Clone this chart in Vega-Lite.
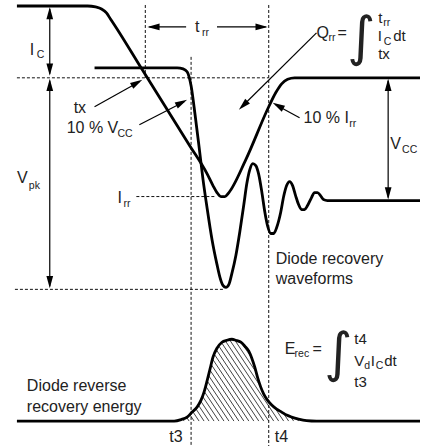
{
  "$schema": "https://vega.github.io/schema/vega-lite/v6.json",
  "width": 422,
  "height": 447,
  "autosize": {"type": "fit", "contains": "padding"},
  "padding": 0,
  "background": "white",
  "config": {"view": {"stroke": null}},
  "datasets": {
    "curves": [
      {"id": "A", "t": 17, "v": 6}, {"id": "A", "t": 88, "v": 6}, {"id": "A", "t": 96, "v": 7}, {"id": "A", "t": 102, "v": 9}, {"id": "A", "t": 107, "v": 13}, {"id": "A", "t": 111, "v": 19}, {"id": "A", "t": 115, "v": 25}, {"id": "A", "t": 143, "v": 70}, {"id": "A", "t": 190, "v": 145}, {"id": "A", "t": 208, "v": 174}, {"id": "A", "t": 214, "v": 186}, {"id": "A", "t": 218, "v": 193}, {"id": "A", "t": 222, "v": 197}, {"id": "A", "t": 226, "v": 197}, {"id": "A", "t": 230, "v": 193}, {"id": "A", "t": 247, "v": 160}, {"id": "A", "t": 270, "v": 107}, {"id": "A", "t": 277, "v": 93}, {"id": "A", "t": 283, "v": 84}, {"id": "A", "t": 289, "v": 79.5}, {"id": "A", "t": 296, "v": 78}, {"id": "A", "t": 305, "v": 78}, {"id": "A", "t": 422, "v": 78},
      {"id": "B", "t": 95, "v": 68}, {"id": "B", "t": 178, "v": 68}, {"id": "B", "t": 184, "v": 69}, {"id": "B", "t": 188, "v": 72}, {"id": "B", "t": 190, "v": 77}, {"id": "B", "t": 192, "v": 86}, {"id": "B", "t": 196, "v": 115}, {"id": "B", "t": 200, "v": 147}, {"id": "B", "t": 204, "v": 180}, {"id": "B", "t": 208, "v": 208}, {"id": "B", "t": 213, "v": 240}, {"id": "B", "t": 218, "v": 265}, {"id": "B", "t": 221, "v": 278}, {"id": "B", "t": 224, "v": 286}, {"id": "B", "t": 227, "v": 288}, {"id": "B", "t": 230, "v": 285}, {"id": "B", "t": 233, "v": 274}, {"id": "B", "t": 237, "v": 256}, {"id": "B", "t": 241, "v": 232}, {"id": "B", "t": 245, "v": 205}, {"id": "B", "t": 248, "v": 184}, {"id": "B", "t": 251, "v": 170}, {"id": "B", "t": 254, "v": 164}, {"id": "B", "t": 257, "v": 166}, {"id": "B", "t": 260, "v": 175}, {"id": "B", "t": 263, "v": 192}, {"id": "B", "t": 266, "v": 212}, {"id": "B", "t": 269, "v": 227}, {"id": "B", "t": 272, "v": 234}, {"id": "B", "t": 275, "v": 234}, {"id": "B", "t": 278, "v": 228}, {"id": "B", "t": 282, "v": 213}, {"id": "B", "t": 285, "v": 197}, {"id": "B", "t": 288, "v": 186}, {"id": "B", "t": 291, "v": 182}, {"id": "B", "t": 294, "v": 186}, {"id": "B", "t": 297, "v": 196}, {"id": "B", "t": 300, "v": 205}, {"id": "B", "t": 303, "v": 210}, {"id": "B", "t": 306, "v": 210}, {"id": "B", "t": 309, "v": 206}, {"id": "B", "t": 313, "v": 198}, {"id": "B", "t": 316, "v": 193}, {"id": "B", "t": 319, "v": 193}, {"id": "B", "t": 322, "v": 196}, {"id": "B", "t": 325, "v": 200}, {"id": "B", "t": 329, "v": 201}, {"id": "B", "t": 422, "v": 201},
      {"id": "E", "t": 17, "v": 422}, {"id": "E", "t": 175, "v": 422}, {"id": "E", "t": 182, "v": 420.5}, {"id": "E", "t": 188, "v": 418}, {"id": "E", "t": 193, "v": 413}, {"id": "E", "t": 198, "v": 408}, {"id": "E", "t": 202, "v": 401}, {"id": "E", "t": 205, "v": 393}, {"id": "E", "t": 208, "v": 382}, {"id": "E", "t": 211, "v": 370}, {"id": "E", "t": 214, "v": 358}, {"id": "E", "t": 218, "v": 349}, {"id": "E", "t": 223, "v": 343}, {"id": "E", "t": 228, "v": 341}, {"id": "E", "t": 233, "v": 340}, {"id": "E", "t": 237, "v": 341}, {"id": "E", "t": 242, "v": 343}, {"id": "E", "t": 246, "v": 347}, {"id": "E", "t": 250, "v": 352}, {"id": "E", "t": 253, "v": 359}, {"id": "E", "t": 256, "v": 368}, {"id": "E", "t": 259, "v": 379}, {"id": "E", "t": 262, "v": 388}, {"id": "E", "t": 265, "v": 395}, {"id": "E", "t": 268, "v": 400}, {"id": "E", "t": 273, "v": 406}, {"id": "E", "t": 278, "v": 410}, {"id": "E", "t": 283, "v": 413}, {"id": "E", "t": 288, "v": 416}, {"id": "E", "t": 293, "v": 418}, {"id": "E", "t": 300, "v": 420}, {"id": "E", "t": 308, "v": 421.5}, {"id": "E", "t": 318, "v": 422}, {"id": "E", "t": 422, "v": 422}
    ],
    "hatch": [
      {"t": 185, "v": 422, "t2": 127, "v2": 335}, {"t": 190, "v": 422, "t2": 132, "v2": 335}, {"t": 195, "v": 422, "t2": 137, "v2": 335}, {"t": 200, "v": 422, "t2": 142, "v2": 335}, {"t": 205, "v": 422, "t2": 147, "v2": 335}, {"t": 210, "v": 422, "t2": 152, "v2": 335}, {"t": 215, "v": 422, "t2": 157, "v2": 335}, {"t": 220, "v": 422, "t2": 162, "v2": 335}, {"t": 225, "v": 422, "t2": 167, "v2": 335}, {"t": 230, "v": 422, "t2": 172, "v2": 335}, {"t": 235, "v": 422, "t2": 177, "v2": 335}, {"t": 240, "v": 422, "t2": 182, "v2": 335}, {"t": 245, "v": 422, "t2": 187, "v2": 335}, {"t": 250, "v": 422, "t2": 192, "v2": 335}, {"t": 255, "v": 422, "t2": 197, "v2": 335}, {"t": 260, "v": 422, "t2": 202, "v2": 335}, {"t": 265, "v": 422, "t2": 207, "v2": 335}, {"t": 270, "v": 422, "t2": 212, "v2": 335}, {"t": 275, "v": 422, "t2": 217, "v2": 335}, {"t": 280, "v": 422, "t2": 222, "v2": 335}, {"t": 285, "v": 422, "t2": 227, "v2": 335}, {"t": 290, "v": 422, "t2": 232, "v2": 335}, {"t": 295, "v": 422, "t2": 237, "v2": 335}, {"t": 300, "v": 422, "t2": 242, "v2": 335}, {"t": 305, "v": 422, "t2": 247, "v2": 335}
    ],
    "dashed": [
      {"t": 17, "v": 78, "t2": 270, "v2": 78},
      {"t": 15, "v": 290, "t2": 224, "v2": 290},
      {"t": 137, "v": 197, "t2": 217, "v2": 197},
      {"t": 146, "v": 5, "t2": 146, "v2": 78},
      {"t": 192, "v": 57, "t2": 192, "v2": 447},
      {"t": 270, "v": 5, "t2": 270, "v2": 447}
    ],
    "arrows": [
      {"t": 50, "v": 9, "t2": 50, "v2": 74},
      {"t": 50, "v": 81, "t2": 50, "v2": 287},
      {"t": 390, "v": 81, "t2": 390, "v2": 198},
      {"t": 150, "v": 27, "t2": 187, "v2": 27},
      {"t": 218, "v": 27, "t2": 267, "v2": 27},
      {"t": 95, "v": 107, "t2": 140, "v2": 82},
      {"t": 140, "v": 125, "t2": 185, "v2": 102},
      {"t": 318, "v": 33, "t2": 243, "v2": 107},
      {"t": 301, "v": 118, "t2": 277, "v2": 105}
    ],
    "heads": [
      {"t": 50, "v": 7, "ang": 0}, {"t": 50, "v": 76, "ang": 180},
      {"t": 50, "v": 79, "ang": 0}, {"t": 50, "v": 289, "ang": 180},
      {"t": 390, "v": 79, "ang": 0}, {"t": 390, "v": 200, "ang": 180},
      {"t": 148, "v": 27, "ang": 270}, {"t": 269, "v": 27, "ang": 90},
      {"t": 143, "v": 80, "ang": 60.6},
      {"t": 188, "v": 100, "ang": 62.5},
      {"t": 240, "v": 110, "ang": 225.4},
      {"t": 274, "v": 103, "ang": 299.1}
    ],
    "labels": [
      {"t": 30, "v": 55, "s": "I"},
      {"t": 17, "v": 183, "s": "V"},
      {"t": 118, "v": 203, "s": "I"},
      {"t": 196, "v": 32, "s": "t"},
      {"t": 74, "v": 113, "s": "tx"},
      {"t": 67, "v": 133, "s": "10 % V"},
      {"t": 318, "v": 38, "s": "Q"},
      {"t": 339, "v": 38, "s": "="},
      {"t": 305, "v": 123, "s": "10 % I"},
      {"t": 392, "v": 149, "s": "V"},
      {"t": 277, "v": 265, "s": "Diode recovery"},
      {"t": 277, "v": 285, "s": "waveforms"},
      {"t": 27, "v": 392, "s": "Diode reverse"},
      {"t": 27, "v": 413, "s": "recovery energy"},
      {"t": 170, "v": 443, "s": "t3"},
      {"t": 276, "v": 443, "s": "t4"},
      {"t": 286, "v": 355, "s": "E"},
      {"t": 314, "v": 355, "s": "="}
    ],
    "subs": [
      {"t": 37, "v": 58, "s": "C"},
      {"t": 29, "v": 189, "s": "pk"},
      {"t": 124, "v": 207, "s": "rr"},
      {"t": 203, "v": 36, "s": "rr"},
      {"t": 118, "v": 137, "s": "CC"},
      {"t": 330, "v": 41, "s": "rr"},
      {"t": 385, "v": 26, "s": "rr"},
      {"t": 385.5, "v": 45, "s": "C"},
      {"t": 351, "v": 127, "s": "rr"},
      {"t": 404, "v": 153, "s": "CC"},
      {"t": 296, "v": 358, "s": "rec"},
      {"t": 366, "v": 370, "s": "d"},
      {"t": 377.5, "v": 370, "s": "C"}
    ],
    "formula": [
      {"t": 380, "v": 23, "s": "t"},
      {"t": 379.5, "v": 41, "s": "I"},
      {"t": 395, "v": 41, "s": "dt"},
      {"t": 380, "v": 59, "s": "tx"},
      {"t": 356, "v": 345, "s": "t4"},
      {"t": 356, "v": 367, "s": "V"},
      {"t": 372.5, "v": 367, "s": "I"},
      {"t": 386, "v": 367, "s": "dt"},
      {"t": 356, "v": 388, "s": "t3"}
    ],
    "integrals": [
      {"t": 363, "v": 39, "s": "∫"},
      {"t": 340, "v": 356, "s": "∫"}
    ]
  },
  "encoding": {
    "x": {"field": "t", "type": "quantitative", "scale": {"domain": [0, 422], "nice": false, "zero": false}, "axis": null},
    "y": {"field": "v", "type": "quantitative", "scale": {"domain": [0, 447], "nice": false, "zero": false, "reverse": true}, "axis": null}
  },
  "layer": [
    {
      "data": {"name": "hatch"},
      "mark": {"type": "rule", "color": "#111", "strokeWidth": 0.8},
      "encoding": {"x2": {"field": "t2"}, "y2": {"field": "v2"}}
    },
    {
      "data": {"name": "curves"},
      "transform": [{"filter": "datum.id === 'E'"}],
      "mark": {"type": "area", "interpolate": "monotone", "fill": "white", "opacity": 1},
      "encoding": {"y2": {"datum": 330}}
    },
    {
      "data": {"name": "dashed"},
      "mark": {"type": "rule", "color": "#111", "strokeWidth": 1, "strokeDash": [3, 2]},
      "encoding": {"x2": {"field": "t2"}, "y2": {"field": "v2"}}
    },
    {
      "data": {"name": "curves"},
      "mark": {"type": "line", "interpolate": "monotone", "color": "#000", "strokeWidth": 2.8, "strokeJoin": "round", "strokeCap": "butt"},
      "encoding": {"detail": {"field": "id"}}
    },
    {
      "data": {"name": "arrows"},
      "mark": {"type": "rule", "color": "#000", "strokeWidth": 1.2},
      "encoding": {"x2": {"field": "t2"}, "y2": {"field": "v2"}}
    },
    {
      "data": {"name": "heads"},
      "mark": {"type": "point", "shape": "M0,0L-0.55,2L0.55,2Z", "filled": true, "fill": "#000", "size": 150, "strokeWidth": 0, "opacity": 1},
      "encoding": {"angle": {"field": "ang", "type": "quantitative", "scale": null}}
    },
    {
      "data": {"name": "labels"},
      "mark": {"type": "text", "font": "Liberation Sans", "fontSize": 16, "align": "left", "baseline": "alphabetic", "color": "#222"},
      "encoding": {"text": {"field": "s"}}
    },
    {
      "data": {"name": "subs"},
      "mark": {"type": "text", "font": "Liberation Sans", "fontSize": 10.5, "align": "left", "baseline": "alphabetic", "color": "#222"},
      "encoding": {"text": {"field": "s"}}
    },
    {
      "data": {"name": "formula"},
      "mark": {"type": "text", "font": "Liberation Sans", "fontSize": 15, "align": "left", "baseline": "alphabetic", "color": "#222"},
      "encoding": {"text": {"field": "s"}}
    },
    {
      "data": {"name": "integrals"},
      "mark": {"type": "text", "font": "DejaVu Sans", "fontSize": 54, "align": "center", "baseline": "middle", "color": "#222"},
      "encoding": {"text": {"field": "s"}}
    }
  ]
}
